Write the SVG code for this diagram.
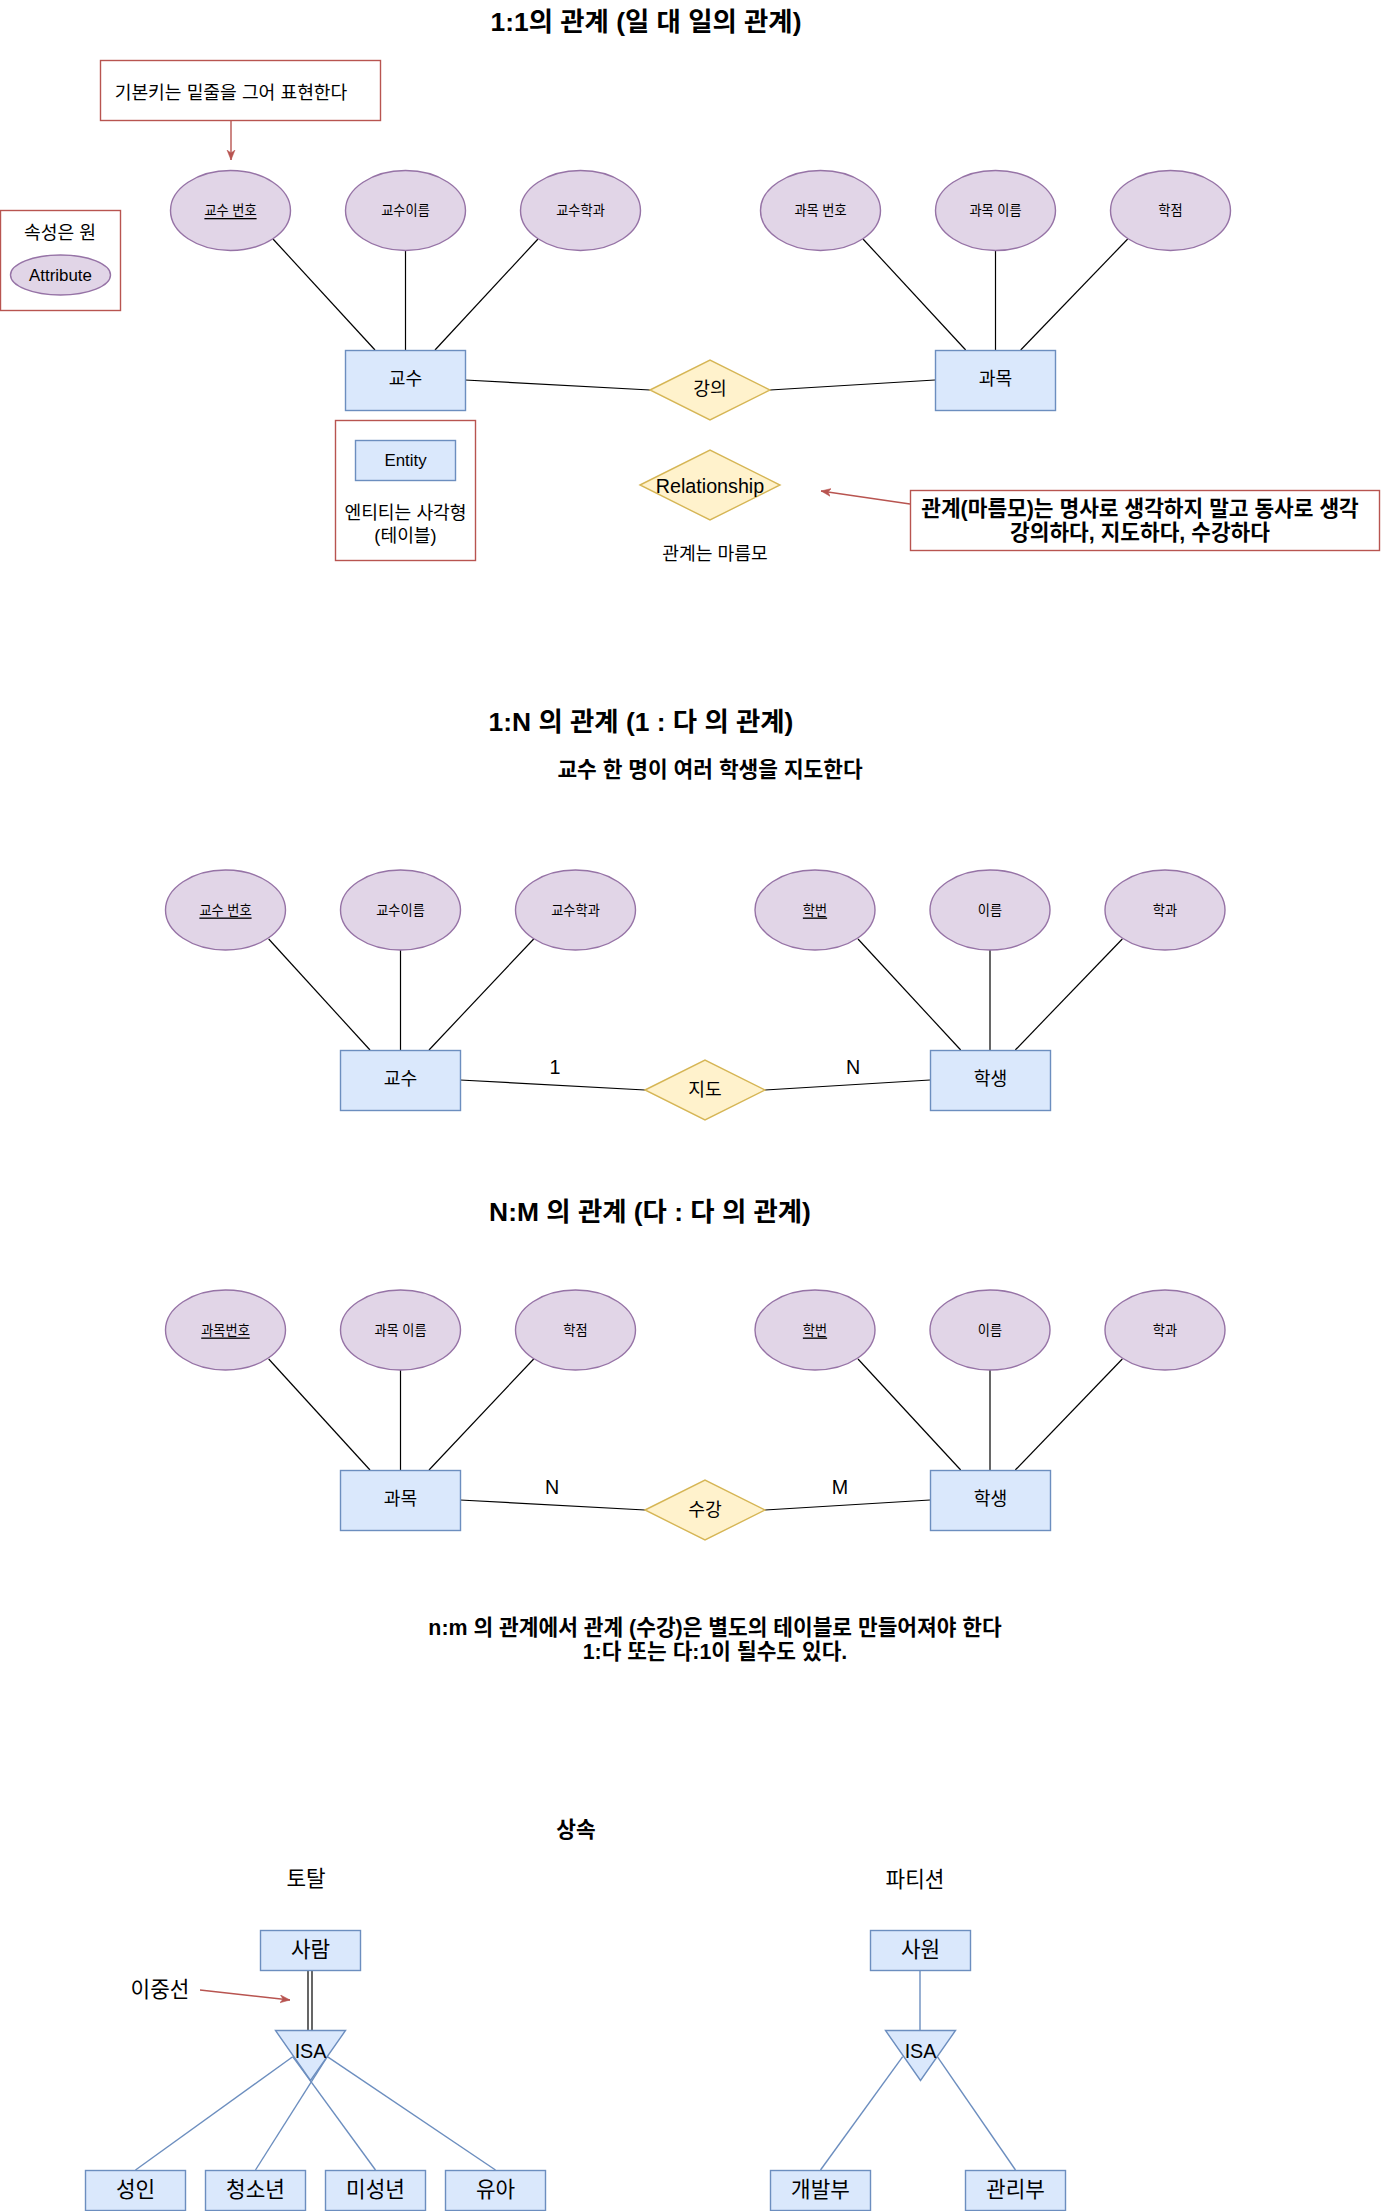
<svg xmlns="http://www.w3.org/2000/svg" width="1381" height="2211" viewBox="0 0 1381 2211">
<style>
text{font-family:"Liberation Sans","Noto Sans CJK KR",sans-serif;fill:#000;text-anchor:middle;dominant-baseline:central}
.t25{font-size:26.4px;font-weight:bold}
.b20{font-size:21.4px;font-weight:bold}
.n20{font-size:21.3px}
.l20{font-size:19.7px}
.n17{font-size:18.2px}
.l17{font-size:16.9px}
.s12{font-size:13.2px}
.u{text-decoration:underline}
.ent{fill:#dae8fc;stroke:#6c8ebf;stroke-width:1.4}
.att{fill:#e1d5e7;stroke:#9673a6;stroke-width:1.4}
.rel{fill:#fff2cc;stroke:#d6b656;stroke-width:1.4}
.note{fill:none;stroke:#b85450;stroke-width:1.4}
.ln{stroke:#000;stroke-width:1.2;fill:none}
.bl{stroke:#6c8ebf;stroke-width:1.4;fill:none}
.ra{stroke:#b85450;stroke-width:1.4;fill:none;marker-end:url(#ah)}
</style>
<defs>
<marker id="ah" viewBox="0 0 10 10" refX="10" refY="5" markerWidth="10" markerHeight="10" markerUnits="userSpaceOnUse" orient="auto">
<path d="M0,1 L10,5 L0,9 L3,5 z" fill="#b85450" stroke="#b85450" stroke-width="0.5"/>
</marker>
</defs>
<rect width="1381" height="2211" fill="#fff"/>

<!-- titles and free text -->
<g id="titles">
<text class="t25" x="646" y="22">1:1의 관계 (일 대 일의 관계)</text>
<text class="t25" x="641" y="722">1:N 의 관계 (1 : 다 의 관계)</text>
<text class="b20" x="710" y="770">교수 한 명이 여러 학생을 지도한다</text>
<text class="t25" x="650" y="1212">N:M 의 관계 (다 : 다 의 관계)</text>
<text class="b20" x="715" y="1628">n:m 의 관계에서 관계 (수강)은 별도의 테이블로 만들어져야 한다</text>
<text class="b20" x="715" y="1652">1:다 또는 다:1이 될수도 있다.</text>
<text class="b20" x="576" y="1830">상속</text>
<text class="n20" x="306" y="1879">토탈</text>
<text class="n20" x="915" y="1880">파티션</text>
<text class="n20" x="160" y="1990">이중선</text>
<text class="n17" x="715" y="554">관계는 마름모</text>
</g>

<!-- connectors -->
<g id="connectors">
<line class="ln" x1="273" y1="239" x2="375" y2="350"/>
<line class="ln" x1="405.5" y1="250.5" x2="405.5" y2="350"/>
<line class="ln" x1="538" y1="239" x2="435" y2="350"/>
<line class="ln" x1="863" y1="239" x2="965.7" y2="350"/>
<line class="ln" x1="995.5" y1="250.5" x2="995.5" y2="350"/>
<line class="ln" x1="1127.7" y1="239" x2="1020.7" y2="350"/>
<line class="ln" x1="465" y1="380" x2="650" y2="390"/>
<line class="ln" x1="770" y1="390" x2="935" y2="380"/>

<line class="ln" x1="268.7" y1="939" x2="370" y2="1050"/>
<line class="ln" x1="400.5" y1="950" x2="400.5" y2="1050"/>
<line class="ln" x1="533.7" y1="939" x2="429" y2="1050"/>
<line class="ln" x1="858" y1="939" x2="960.7" y2="1050"/>
<line class="ln" x1="990" y1="950" x2="990" y2="1050"/>
<line class="ln" x1="1122.3" y1="939" x2="1015.3" y2="1050"/>
<line class="ln" x1="460" y1="1080" x2="645" y2="1090"/>
<line class="ln" x1="765" y1="1090" x2="930" y2="1080"/>

<line class="ln" x1="268.7" y1="1359" x2="370" y2="1470"/>
<line class="ln" x1="400.5" y1="1370" x2="400.5" y2="1470"/>
<line class="ln" x1="533.7" y1="1359" x2="429" y2="1470"/>
<line class="ln" x1="858" y1="1359" x2="960.7" y2="1470"/>
<line class="ln" x1="990" y1="1370" x2="990" y2="1470"/>
<line class="ln" x1="1122.3" y1="1359" x2="1015.3" y2="1470"/>
<line class="ln" x1="460" y1="1500" x2="645" y2="1510"/>
<line class="ln" x1="765" y1="1510" x2="930" y2="1500"/>

<line stroke="#000" stroke-width="1.2" x1="308" y1="1970" x2="308" y2="2030"/>
<line stroke="#000" stroke-width="1.2" x1="312" y1="1970" x2="312" y2="2030"/>
<line class="bl" x1="292.7" y1="2056.7" x2="135.5" y2="2170"/>
<line class="bl" x1="327.3" y1="2056.7" x2="255.5" y2="2170"/>
<line class="bl" x1="292.7" y1="2056.7" x2="375.5" y2="2170"/>
<line class="bl" x1="327.3" y1="2056.7" x2="495.5" y2="2170"/>
<line class="bl" x1="920" y1="1970" x2="920" y2="2030"/>
<line class="bl" x1="902.7" y1="2056.7" x2="820.5" y2="2170"/>
<line class="bl" x1="937.3" y1="2056.7" x2="1015.5" y2="2170"/>

<line class="ra" x1="231" y1="120.5" x2="231" y2="160"/>
<line class="ra" x1="910" y1="504" x2="821" y2="491"/>
<line class="ra" x1="200" y1="1990" x2="290" y2="2000"/>
</g>

<!-- notes -->
<g id="note-pk"><rect class="note" x="100.5" y="60.5" width="280" height="60"/><text class="n17" x="231" y="92.5">기본키는 밑줄을 그어 표현한다</text></g>
<g id="note-attr"><rect class="note" x="0.5" y="210.5" width="120" height="100"/><text class="n17" x="60" y="233">속성은 원</text>
<ellipse class="att" cx="60.5" cy="275" rx="50" ry="20"/><text class="l17" x="60.5" y="275">Attribute</text></g>
<g id="note-entity"><rect class="note" x="335.5" y="420.5" width="140" height="140"/>
<rect class="ent" x="355.5" y="440.5" width="100" height="40"/><text class="l17" x="405.5" y="460.5">Entity</text>
<text class="n17" x="405.5" y="513">엔티티는 사각형</text><text class="n17" x="405.5" y="535.5">(테이블)</text></g>
<g id="note-rel"><rect class="note" x="910.5" y="490.5" width="469" height="60"/>
<text class="b20" x="1140" y="509">관계(마름모)는 명사로 생각하지 말고 동사로 생각</text>
<text class="b20" x="1140" y="533">강의하다, 지도하다, 수강하다</text></g>
<g id="legend-rel"><polygon class="rel" points="640,485 710,450 780,485 710,520"/><text class="l20" x="710" y="486">Relationship</text></g>

<!-- section 1 -->
<g id="s1-a1"><ellipse class="att" cx="230.5" cy="210.5" rx="60" ry="40"/><text class="s12 u" x="230.5" y="210.5">교수 번호</text></g>
<g id="s1-a2"><ellipse class="att" cx="405.5" cy="210.5" rx="60" ry="40"/><text class="s12" x="405.5" y="210.5">교수이름</text></g>
<g id="s1-a3"><ellipse class="att" cx="580.5" cy="210.5" rx="60" ry="40"/><text class="s12" x="580.5" y="210.5">교수학과</text></g>
<g id="s1-a4"><ellipse class="att" cx="820.5" cy="210.5" rx="60" ry="40"/><text class="s12" x="820.5" y="210.5">과목 번호</text></g>
<g id="s1-a5"><ellipse class="att" cx="995.5" cy="210.5" rx="60" ry="40"/><text class="s12" x="995.5" y="210.5">과목 이름</text></g>
<g id="s1-a6"><ellipse class="att" cx="1170.5" cy="210.5" rx="60" ry="40"/><text class="s12" x="1170.5" y="210.5">학점</text></g>
<g id="s1-prof"><rect class="ent" x="345.5" y="350.5" width="120" height="60"/><text class="n17" x="405.5" y="379">교수</text></g>
<g id="s1-course"><rect class="ent" x="935.5" y="350.5" width="120" height="60"/><text class="n17" x="995.5" y="379">과목</text></g>
<g id="s1-rel"><polygon class="rel" points="650,390 710,360 770,390 710,420"/><text class="n17" x="710" y="389">강의</text></g>

<!-- section 2 -->
<g id="s2-a1"><ellipse class="att" cx="225.5" cy="910" rx="60" ry="40"/><text class="s12 u" x="225.5" y="910">교수 번호</text></g>
<g id="s2-a2"><ellipse class="att" cx="400.5" cy="910" rx="60" ry="40"/><text class="s12" x="400.5" y="910">교수이름</text></g>
<g id="s2-a3"><ellipse class="att" cx="575.5" cy="910" rx="60" ry="40"/><text class="s12" x="575.5" y="910">교수학과</text></g>
<g id="s2-a4"><ellipse class="att" cx="815" cy="910" rx="60" ry="40"/><text class="s12 u" x="815" y="910">학번</text></g>
<g id="s2-a5"><ellipse class="att" cx="990" cy="910" rx="60" ry="40"/><text class="s12" x="990" y="910">이름</text></g>
<g id="s2-a6"><ellipse class="att" cx="1165" cy="910" rx="60" ry="40"/><text class="s12" x="1165" y="910">학과</text></g>
<g id="s2-prof"><rect class="ent" x="340.5" y="1050.5" width="120" height="60"/><text class="n17" x="400.5" y="1079">교수</text></g>
<g id="s2-stud"><rect class="ent" x="930.5" y="1050.5" width="120" height="60"/><text class="n17" x="990.5" y="1079">학생</text></g>
<g id="s2-rel"><polygon class="rel" points="645,1090 705,1060 765,1090 705,1120"/><text class="n17" x="705" y="1090">지도</text></g>
<g id="s2-card"><text class="l20" x="555" y="1067">1</text><text class="l20" x="853" y="1067">N</text></g>

<!-- section 3 -->
<g id="s3-a1"><ellipse class="att" cx="225.5" cy="1330" rx="60" ry="40"/><text class="s12 u" x="225.5" y="1330">과목번호</text></g>
<g id="s3-a2"><ellipse class="att" cx="400.5" cy="1330" rx="60" ry="40"/><text class="s12" x="400.5" y="1330">과목 이름</text></g>
<g id="s3-a3"><ellipse class="att" cx="575.5" cy="1330" rx="60" ry="40"/><text class="s12" x="575.5" y="1330">학점</text></g>
<g id="s3-a4"><ellipse class="att" cx="815" cy="1330" rx="60" ry="40"/><text class="s12 u" x="815" y="1330">학번</text></g>
<g id="s3-a5"><ellipse class="att" cx="990" cy="1330" rx="60" ry="40"/><text class="s12" x="990" y="1330">이름</text></g>
<g id="s3-a6"><ellipse class="att" cx="1165" cy="1330" rx="60" ry="40"/><text class="s12" x="1165" y="1330">학과</text></g>
<g id="s3-course"><rect class="ent" x="340.5" y="1470.5" width="120" height="60"/><text class="n17" x="400.5" y="1499">과목</text></g>
<g id="s3-stud"><rect class="ent" x="930.5" y="1470.5" width="120" height="60"/><text class="n17" x="990.5" y="1499">학생</text></g>
<g id="s3-rel"><polygon class="rel" points="645,1510 705,1480 765,1510 705,1540"/><text class="n17" x="705" y="1510">수강</text></g>
<g id="s3-card"><text class="l20" x="552" y="1487">N</text><text class="l20" x="840" y="1487">M</text></g>

<!-- inheritance -->
<g id="person"><rect class="ent" x="260.5" y="1930.5" width="100" height="40"/><text class="n20" x="310.5" y="1950">사람</text></g>
<g id="isa1"><polygon class="ent" points="275.5,2030.5 345.5,2030.5 310.5,2080.5"/><text class="l20" x="310.5" y="2051">ISA</text></g>
<g id="adult"><rect class="ent" x="85.5" y="2170.5" width="100" height="40"/><text class="n20" x="135.5" y="2190">성인</text></g>
<g id="teen"><rect class="ent" x="205.5" y="2170.5" width="100" height="40"/><text class="n20" x="255.5" y="2190">청소년</text></g>
<g id="minor"><rect class="ent" x="325.5" y="2170.5" width="100" height="40"/><text class="n20" x="375.5" y="2190">미성년</text></g>
<g id="infant"><rect class="ent" x="445.5" y="2170.5" width="100" height="40"/><text class="n20" x="495.5" y="2190">유아</text></g>
<g id="employee"><rect class="ent" x="870.5" y="1930.5" width="100" height="40"/><text class="n20" x="920.5" y="1950">사원</text></g>
<g id="isa2"><polygon class="ent" points="885.5,2030.5 955.5,2030.5 920.5,2080.5"/><text class="l20" x="920.5" y="2051">ISA</text></g>
<g id="dev"><rect class="ent" x="770.5" y="2170.5" width="100" height="40"/><text class="n20" x="820.5" y="2190">개발부</text></g>
<g id="mgmt"><rect class="ent" x="965.5" y="2170.5" width="100" height="40"/><text class="n20" x="1015.5" y="2190">관리부</text></g>
</svg>
